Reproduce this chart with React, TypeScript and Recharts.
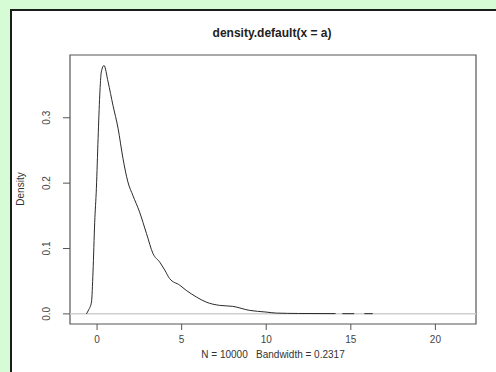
import { LineChart, Line, XAxis, YAxis, ReferenceLine, ReferenceArea } from "recharts";

// kernel density estimate, sampled along x
const densityX = [
  -0.63, -0.5, -0.33, -0.24, -0.14, -0.04, 0.06, 0.16, 0.25, 0.41, 0.65, 0.94, 1.24, 1.53,
  1.82, 2.12, 2.51, 2.92, 3.31, 3.71, 4.0, 4.29, 4.88, 5.27, 5.86, 6.45, 7.24, 8.02, 9.0,
  9.98, 10.6, 11.9, 14.1, 14.3, 14.5, 15.2, 15.5, 15.8, 16.3,
];
const densityY = [
  0, 0.006, 0.018, 0.064, 0.14, 0.192, 0.268, 0.335, 0.37, 0.38, 0.355, 0.319, 0.284, 0.238,
  0.202, 0.181, 0.156, 0.123, 0.092, 0.079, 0.067, 0.054, 0.044, 0.036, 0.026, 0.018, 0.013,
  0.0115, 0.0054, 0.0028, 0.0012, 0.0006, 0.0004, null, 0.0003, 0.0003, null, 0.0003, 0.0003,
];

const xTicks = [0, 5, 10, 15, 20];
const yTicks = [0, 0.1, 0.2, 0.3];
const xDomain = [-1.6, 22.4];
const yDomain = [-0.0155, 0.396];

const title = "density.default(x = a)";
const xTitle = "N = 10000   Bandwidth = 0.2317";
const yTitle = "Density";

const data = densityX.map((x, i) => ({ x, y: densityY[i] }));

const font = '"Liberation Sans", Arial, sans-serif';

function YTick({ y, payload }: any) {
  return (
    <text
      x={47}
      y={y}
      transform={`rotate(-90, 47, ${y})`}
      textAnchor="middle"
      dominantBaseline="central"
      fontSize={10}
      fontFamily={font}
      fill="#444"
    >
      {payload.value.toFixed(1)}
    </text>
  );
}

function XTitle({ viewBox }: any) {
  return (
    <text
      x={viewBox.x + viewBox.width / 2}
      y={354}
      textAnchor="middle"
      dominantBaseline="central"
      fontSize={10}
      fontFamily={font}
      fill="#333"
      style={{ whiteSpace: "pre" }}
    >
      {xTitle}
    </text>
  );
}

function YTitle() {
  return (
    <text
      x={20}
      y={189}
      transform="rotate(-90, 20, 189)"
      textAnchor="middle"
      dominantBaseline="central"
      fontSize={10}
      fontFamily={font}
      fill="#333"
    >
      {yTitle}
    </text>
  );
}

export default function App() {
  return (
    <div
      style={{
        position: "absolute",
        left: 0,
        top: 0,
        width: 496,
        height: 372,
        overflow: "hidden",
        background: "#d6fcd6",
      }}
    >
      <div
        style={{
          position: "absolute",
          left: 10,
          top: 9,
          width: 500,
          height: 380,
          background: "#fff",
          borderTop: "2px solid #1c1c1c",
          borderLeft: "2px solid #1c1c1c",
        }}
      />
      <div
        style={{
          position: "absolute",
          left: 172,
          top: 26,
          width: 200,
          textAlign: "center",
          font: `bold 12px/14px ${font}`,
          color: "#222",
        }}
      >
        {title}
      </div>
      <div style={{ position: "absolute", left: 0, top: 0 }}>
        <LineChart
          width={496}
          height={372}
          data={data}
          margin={{ top: 55, right: 20, bottom: 18, left: 30 }}
        >
          <XAxis
            type="number"
            dataKey="x"
            domain={xDomain}
            ticks={xTicks}
            allowDataOverflow
            axisLine={false}
            tickLine={{ stroke: "#555" }}
            tickSize={6}
            tickMargin={6}
            height={30}
            tick={{ fontSize: 10, fill: "#444", fontFamily: font }}
            label={{ content: XTitle }}
          />
          <YAxis
            type="number"
            domain={yDomain}
            ticks={yTicks}
            allowDataOverflow
            axisLine={false}
            tickLine={{ stroke: "#555" }}
            tickSize={7}
            width={40}
            tick={YTick}
            label={{ content: YTitle }}
          />
          <ReferenceArea
            x1={xDomain[0]}
            x2={xDomain[1]}
            y1={yDomain[0]}
            y2={yDomain[1]}
            fill="none"
            stroke="#555"
            strokeWidth={1.2}
            ifOverflow="visible"
          />
          <ReferenceLine y={0} stroke="#d0d0d0" strokeWidth={1.5} />
          <Line
            type="monotone"
            dataKey="y"
            stroke="#2a2a2a"
            strokeWidth={1}
            dot={false}
            connectNulls={false}
            isAnimationActive={false}
          />
        </LineChart>
      </div>
    </div>
  );
}
